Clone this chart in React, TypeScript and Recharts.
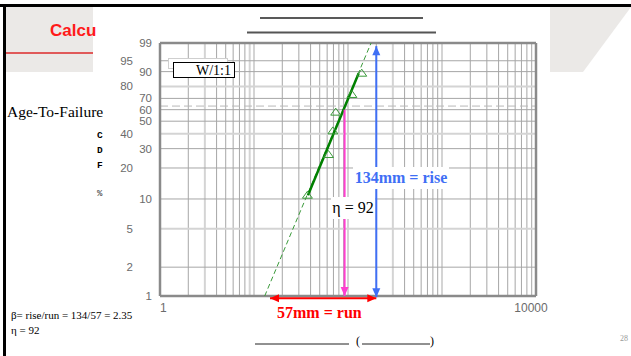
import React from "react";
import { ComposedChart, XAxis, YAxis, Line, Scatter, ReferenceLine } from "recharts";

// failure ages and their median ranks (% CDF)
const ages = [37, 62, 69, 74, 110, 140];
const ranks = [10.9, 26.6, 42.2, 57.8, 73.4, 89.1];

// fitted Weibull line, dashed extension and solid part
const fitDashAges = [13, 176];
const fitDashPct = [1, 99];
const fitSolidAges = [37.5, 130];
const fitSolidPct = [10.9, 89.1];

// construction arrows
const etaAge = 92;
const etaPct = [60, 1];
const riseAge = 200;
const risePct = [0.97, 98.6];
const runAges = [14.8, 200];
const runPct = 0.95;

const yTicks = [1, 2, 5, 10, 20, 30, 40, 50, 60, 70, 80, 90, 95, 99];
const yLeftCol = [2, 5, 20, 40, 80, 95];
const yGrid = [2, 5, 10, 20, 30, 40, 50, 60, 70, 80, 90, 95];
const yLight = [5, 40, 80];
const xTicks = [1, 10000];
const xGrid = [
  2, 3, 4, 5, 6, 7, 8, 9, 10, 20, 30, 40, 50, 60, 70, 80, 90, 100, 200, 300, 400, 500, 600, 700, 800, 900,
  1000, 2000, 3000, 4000, 5000, 6000, 7000, 8000, 9000,
];
const xLight = [3, 9, 10, 100, 300, 1000];

// Weibull probability axis transform
const wy = (p: number) => Math.log(-Math.log(1 - p / 100));

const pts = ages.map((a, i) => ({ x: a, y: wy(ranks[i]) }));
const dash = fitDashAges.map((a, i) => ({ x: a, y: wy(fitDashPct[i]) }));
const solid = fitSolidAges.map((a, i) => ({ x: a, y: wy(fitSolidPct[i]) }));

function head(x: number, y: number, ang: number, color: string) {
  const L = 9, W = 4;
  const bx = x - L * Math.cos(ang), by = y - L * Math.sin(ang);
  const nx = -Math.sin(ang) * W, ny = Math.cos(ang) * W;
  return <polygon points={`${x},${y} ${bx + nx},${by + ny} ${bx - nx},${by - ny}`} fill={color} />;
}

const arrow = (color: string, start: boolean, end: boolean) => (p: any) => {
  const { x1, y1, x2, y2 } = p;
  const ang = Math.atan2(y2 - y1, x2 - x1);
  return (
    <g>
      <line x1={x1} y1={y1} x2={x2} y2={y2} stroke={color} strokeWidth={2} />
      {end && head(x2, y2, ang, color)}
      {start && head(x1, y1, ang + Math.PI, color)}
    </g>
  );
};

function YTick(props: any) {
  const { x, y, payload } = props;
  const t = yTicks.find((v) => Math.abs(wy(v) - payload.value) < 1e-6) ?? 0;
  const off = yLeftCol.includes(t) ? 19 : 0;
  return (
    <text x={x - off} y={y} dy={4} textAnchor="end" fontSize={11.5} fill="#6b6b6b" fontFamily="Liberation Sans, Arial">
      {t}
    </text>
  );
}

function XTick(props: any) {
  const { x, y, payload } = props;
  const first = payload.value === 1;
  return (
    <text x={first ? x : x - 5} y={y} dy={8} textAnchor={first ? "start" : "middle"} fontSize={12} fill="#6b6b6b" fontFamily="Liberation Sans, Arial">
      {payload.value}
    </text>
  );
}

const tri = (p: any) => (
  <polygon points={`${p.cx - 5},${p.cy + 3} ${p.cx + 5},${p.cy + 3} ${p.cx},${p.cy - 4}`} fill="none" stroke="#3a9a3a" strokeWidth={1} />
);

const abs = (s: React.CSSProperties): React.CSSProperties => ({ position: "absolute", ...s });
const serif = "Liberation Serif, Times New Roman, serif";
const mono = "Liberation Mono, Courier New, monospace";

export default function App() {
  return (
    <div style={abs({ left: 0, top: 0, width: 631, height: 356, background: "#fff", overflow: "hidden" })}>
      <div style={abs({ left: 0, top: 4, width: 631, height: 3, background: "#000" })} />
      <div style={abs({ left: 3, top: 4, width: 3, height: 352, background: "#000" })} />
      <div style={abs({ left: 6, top: 7, width: 87, height: 65, background: "#ebe9e7" })} />
      <div style={abs({ left: 6, top: 52, width: 87, height: 2, background: "#e05a5a" })} />
      <div style={abs({ left: 50, top: 21, fontFamily: "Liberation Sans, Arial", fontWeight: "bold", fontSize: 17, color: "#ff1a1a", whiteSpace: "nowrap" })}>
        Calcu
      </div>
      <svg style={abs({ left: 0, top: 0 })} width={631} height={356}>
        <polygon points="550,7 631,7 583,72 550,72" fill="#ebe9e7" />
        <line x1={260} y1={18} x2={423} y2={18} stroke="#222" strokeWidth={1.5} />
        <line x1={247} y1={32.5} x2={436} y2={32.5} stroke="#555" strokeWidth={2} />
        <line x1={255} y1={344} x2={349} y2={344} stroke="#222" strokeWidth={1} />
        <line x1={362} y1={344} x2={430} y2={344} stroke="#222" strokeWidth={1} />
      </svg>

      <div style={abs({ left: 0, top: 0 })}>
        <ComposedChart width={631} height={356} margin={{ top: 43, right: 95, bottom: 0, left: 0 }}>
          <XAxis
            type="number"
            dataKey="x"
            scale="log"
            domain={[1, 10000]}
            ticks={xTicks}
            interval={0}
            allowDataOverflow
            axisLine={false}
            tickLine={false}
            height={60}
            tick={<XTick />}
          />
          <YAxis
            type="number"
            dataKey="y"
            domain={[wy(1), wy(99)]}
            ticks={yTicks.map(wy)}
            interval={0}
            allowDataOverflow
            axisLine={false}
            tickLine={false}
            tickSize={0}
            tickMargin={8}
            width={160}
            tick={<YTick />}
          />
          {xGrid.map((v) => (
            <ReferenceLine key={"x" + v} x={v} stroke={xLight.includes(v) ? "#d4d4d4" : "#a6a6a6"} strokeWidth={xLight.includes(v) ? 2 : 1} />
          ))}
          {yGrid.map((v) => (
            <ReferenceLine key={"y" + v} y={wy(v)} stroke={yLight.includes(v) ? "#d4d4d4" : "#a6a6a6"} strokeWidth={yLight.includes(v) ? 2 : 1} />
          ))}
          <ReferenceLine y={wy(63.2)} stroke="#b8b8b8" strokeDasharray="8 4" />
          <ReferenceLine x={1} stroke="#8a8a8a" strokeWidth={2.5} />
          <ReferenceLine x={10000} stroke="#8a8a8a" strokeWidth={2.5} />
          <ReferenceLine y={wy(1)} stroke="#8a8a8a" strokeWidth={2.5} />
          <ReferenceLine y={wy(99)} stroke="#8a8a8a" strokeWidth={2.5} />

          <Line data={dash} dataKey="y" type="linear" stroke="#3a9a3a" strokeWidth={1} strokeDasharray="5 3" dot={false} isAnimationActive={false} />
          <Line data={solid} dataKey="y" type="linear" stroke="#008000" strokeWidth={2.5} dot={false} isAnimationActive={false} />
          <Scatter data={pts} dataKey="y" shape={tri} isAnimationActive={false} />

          <ReferenceLine
            segment={[{ x: etaAge, y: wy(etaPct[0]) }, { x: etaAge, y: wy(etaPct[1]) }]}
            ifOverflow="visible"
            shape={arrow("#ff3fcf", false, true)}
          />
          <ReferenceLine
            segment={[{ x: riseAge, y: wy(risePct[0]) }, { x: riseAge, y: wy(risePct[1]) }]}
            ifOverflow="visible"
            shape={arrow("#3f6ff5", true, true)}
          />
          <ReferenceLine
            segment={[{ x: runAges[0], y: wy(runPct) }, { x: runAges[1], y: wy(runPct) }]}
            ifOverflow="visible"
            shape={arrow("#ff0000", true, true)}
          />
        </ComposedChart>
      </div>

      <div style={abs({ left: 168, top: 58, width: 58, height: 9, border: "1px solid #cfcfcf", background: "#fff" })} />
      <div style={abs({ left: 173, top: 62, width: 58, height: 14, border: "1px solid #000", background: "#fff", fontFamily: serif, fontSize: 14, lineHeight: "15px", textAlign: "right", paddingRight: 2, boxSizing: "content-box" })}>
        <span style={{ marginRight: 1 }}>W/1:1</span>
      </div>
      <div style={abs({ left: 353, top: 167, width: 96, height: 22, background: "#fff", color: "#3f6ff5", fontFamily: serif, fontWeight: "bold", fontSize: 16, lineHeight: "22px", textAlign: "center", whiteSpace: "nowrap" })}>
        134mm = rise
      </div>
      <div style={abs({ left: 331, top: 197, width: 44, height: 22, background: "#fff", color: "#000", fontFamily: serif, fontSize: 16, lineHeight: "22px", textAlign: "center", whiteSpace: "nowrap" })}>
        η = 92
      </div>
      <div style={abs({ left: 277, top: 304, color: "#ff0000", fontFamily: serif, fontWeight: "bold", fontSize: 16, lineHeight: "18px", whiteSpace: "nowrap" })}>
        57mm = run
      </div>
      <div style={abs({ left: 7, top: 103, fontFamily: serif, fontSize: 15.5, lineHeight: "18px", whiteSpace: "nowrap" })}>Age-To-Failure</div>
      {["C", "D", "F"].map((c, i) => (
        <div key={c} style={abs({ left: 97, top: 131 + i * 15, fontFamily: mono, fontWeight: "bold", fontSize: 9.5, lineHeight: "10px" })}>
          {c}
        </div>
      ))}
      <div style={abs({ left: 97, top: 189, fontFamily: mono, fontWeight: "bold", fontSize: 9, lineHeight: "10px", color: "#555" })}>%</div>
      <div style={abs({ left: 11, top: 309, fontFamily: serif, fontSize: 11, lineHeight: "13px", whiteSpace: "nowrap" })}>
        β= rise/run = 134/57 = 2.35
      </div>
      <div style={abs({ left: 11, top: 324, fontFamily: serif, fontSize: 11, lineHeight: "13px", whiteSpace: "nowrap" })}>η = 92</div>
      <div style={abs({ left: 356, top: 334, fontFamily: serif, fontSize: 12, lineHeight: "14px" })}>(</div>
      <div style={abs({ left: 430, top: 334, fontFamily: serif, fontSize: 12, lineHeight: "14px" })}>)</div>
      <div style={abs({ left: 620, top: 334, fontFamily: serif, fontSize: 8, color: "#999", lineHeight: "10px" })}>28</div>
    </div>
  );
}
